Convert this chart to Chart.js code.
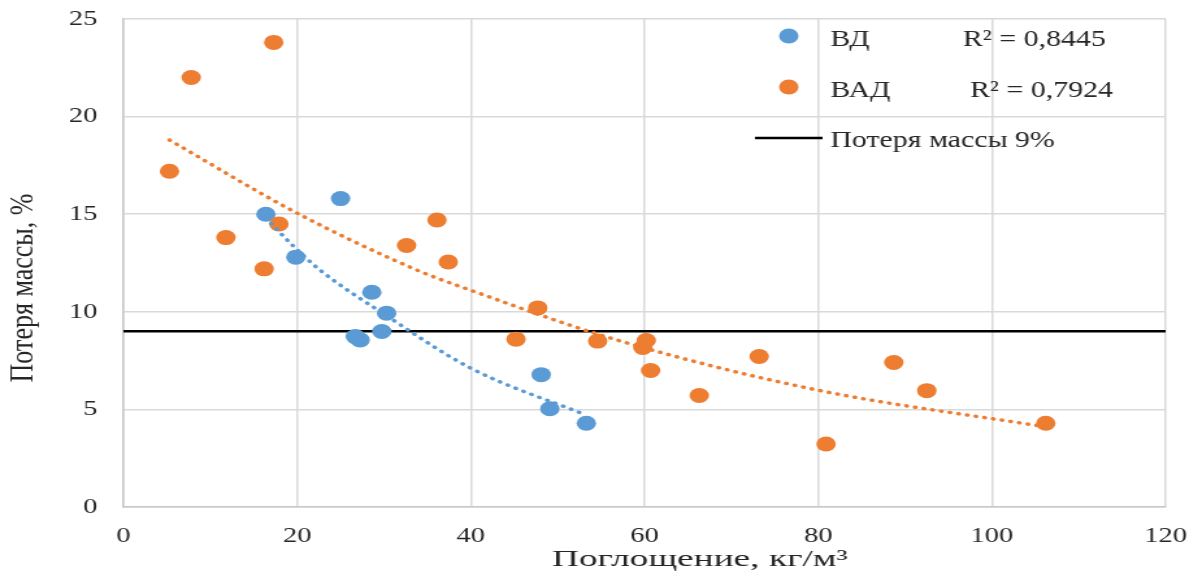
<!DOCTYPE html>
<html>
<head>
<meta charset="utf-8">
<script src="https://cdn.jsdelivr.net/npm/chart.js@4"></script>
<style>
  body { margin: 0; background: #fff; overflow: hidden; }
</style>
</head>
<body>
<canvas id="lossChart" width="925" height="575" style="display:block;width:1202px;height:575px"></canvas>
<script>
// data
const vdX = [16.4, 19.85, 25.0, 28.6, 30.3, 26.7, 27.25, 29.75, 48.1, 49.1, 53.3];
const vdY = [15.0, 12.8, 15.8, 11.0, 9.93, 8.73, 8.56, 8.99, 6.78, 5.03, 4.29];

const vadX = [5.3, 7.8, 17.3, 11.8, 16.2, 17.9, 32.6, 36.1, 37.4, 45.2, 47.7, 54.6, 59.8, 60.2, 60.7, 66.3, 73.2, 80.9, 88.7, 92.5, 106.2];
const vadY = [17.2, 22.0, 23.8, 13.8, 12.2, 14.5, 13.4, 14.7, 12.55, 8.6, 10.2, 8.5, 8.17, 8.53, 6.99, 5.71, 7.71, 3.23, 7.4, 5.96, 4.29];

// trendlines
const vdTrendX = [16.4, 19.6, 22.6, 30.3, 40, 53.3];
const vdTrendY = [14.8, 13.35, 12.15, 9.8, 7.11, 4.7];
const vadTrendX = [5.3, 19.8, 34, 40, 56.8, 79.8, 106.2];
const vadTrendY = [18.8, 15.1, 12.1, 11.1, 8.56, 6.0, 4.1];

const limitY = 9;
const xTicks = [0, 20, 40, 60, 80, 100, 120];
const yTicks = [0, 5, 10, 15, 20, 25];

const seriesNames = ['ВД', 'ВАД'];
const r2Labels = ['R² = 0,8445', 'R² = 0,7924'];
const limitName = 'Потеря массы 9%';
const xTitle = 'Поглощение, кг/м³';
const yTitle = 'Потеря массы, %';

const BLUE = '#5b9bd5';
const ORANGE = '#ed7d31';
const FONT = "'Liberation Serif', 'Times New Roman', serif";
const TEXT = '#262626';

const pts = (xs, ys) => xs.map((x, i) => ({ x: x, y: ys[i] }));

const overlay = {
    id: 'overlay',
    afterDraw(chart) {
        const ctx = chart.ctx;
        const a = chart.chartArea;
        ctx.save();
        ctx.fillStyle = TEXT;
        ctx.textBaseline = 'middle';
        ctx.textAlign = 'center';

        // axis titles
        ctx.save();
        ctx.font = '23px ' + FONT;
        ctx.translate(a.left + (a.right - a.left) * 0.553, 560);
        ctx.scale(1.25, 1);
        ctx.fillText(xTitle, 0, 0);
        ctx.restore();

        ctx.save();
        ctx.font = '26px ' + FONT;
        ctx.translate(18.5, 288);
        ctx.rotate(-Math.PI / 2);
        ctx.fillText(yTitle, 0, 0);
        ctx.restore();

        // legend
        ctx.font = '23px ' + FONT;
        ctx.textAlign = 'left';
        const colors = [BLUE, ORANGE];
        const rowY = [38, 89];
        const r2X = [741, 746.5];
        for (let i = 0; i < 2; i++) {
            ctx.fillStyle = colors[i];
            ctx.beginPath();
            ctx.arc(607, rowY[i] - 2, 7.5, 0, Math.PI * 2);
            ctx.fill();
            ctx.fillStyle = TEXT;
            ctx.fillText(seriesNames[i], 639, rowY[i] + 2);
            ctx.fillText(r2Labels[i], r2X[i], rowY[i] + 2);
        }
        ctx.strokeStyle = '#000';
        ctx.lineWidth = 2.5;
        ctx.beginPath();
        ctx.moveTo(581, 138);
        ctx.lineTo(633, 138);
        ctx.stroke();
        ctx.fillText(limitName, 639, 141);
        ctx.restore();
    }
};

const trendStyle = color => ({
    type: 'line',
    borderColor: color,
    borderWidth: 3.5,
    borderDash: [0.5, 6.3],
    borderCapStyle: 'round',
    pointRadius: 0,
    cubicInterpolationMode: 'monotone',
    fill: false
});

new Chart(document.getElementById('lossChart'), {
    type: 'scatter',
    data: {
        datasets: [
            Object.assign({ label: 'trend ВД', data: pts(vdTrendX, vdTrendY), order: 1 }, trendStyle(BLUE)),
            Object.assign({ label: 'trend ВАД', data: pts(vadTrendX, vadTrendY), order: 2 }, trendStyle(ORANGE)),
            {
                label: seriesNames[1],
                data: pts(vadX, vadY),
                backgroundColor: ORANGE,
                borderWidth: 0,
                pointRadius: 7.5,
                order: 3
            },
            {
                label: seriesNames[0],
                data: pts(vdX, vdY),
                backgroundColor: BLUE,
                borderWidth: 0,
                pointRadius: 7.5,
                order: 4
            },
            {
                type: 'line',
                label: limitName,
                data: [{ x: xTicks[0], y: limitY }, { x: xTicks[xTicks.length - 1], y: limitY }],
                borderColor: '#000',
                borderWidth: 2.5,
                pointRadius: 0,
                order: 5
            }
        ]
    },
    options: {
        responsive: false,
        devicePixelRatio: 1,
        animation: false,
        layout: { padding: { top: 19, right: 28, left: 0, bottom: 0 } },
        plugins: { legend: { display: false }, tooltip: { enabled: false } },
        scales: {
            x: {
                min: xTicks[0],
                max: xTicks[xTicks.length - 1],
                afterBuildTicks: s => { s.ticks = xTicks.map(v => ({ value: v })); },
                afterFit: s => { s.height = 68; s.paddingLeft = 0; s.paddingRight = 0; },
                grid: { color: '#d9d9d9', lineWidth: 1.5, drawTicks: false },
                border: { color: '#c8c8c8', width: 1.5 },
                ticks: { padding: 16, color: TEXT, font: { family: FONT, size: 22 } }
            },
            y: {
                min: yTicks[0],
                max: yTicks[yTicks.length - 1],
                afterBuildTicks: s => { s.ticks = yTicks.map(v => ({ value: v })); },
                afterFit: s => { s.width = 95; s.paddingTop = 0; s.paddingBottom = 0; },
                grid: { color: '#d9d9d9', lineWidth: 1.5, drawTicks: false },
                border: { color: '#c8c8c8', width: 1.5 },
                ticks: { padding: 20, color: TEXT, font: { family: FONT, size: 22 } }
            }
        }
    },
    plugins: [overlay]
});
</script>
</body>
</html>
